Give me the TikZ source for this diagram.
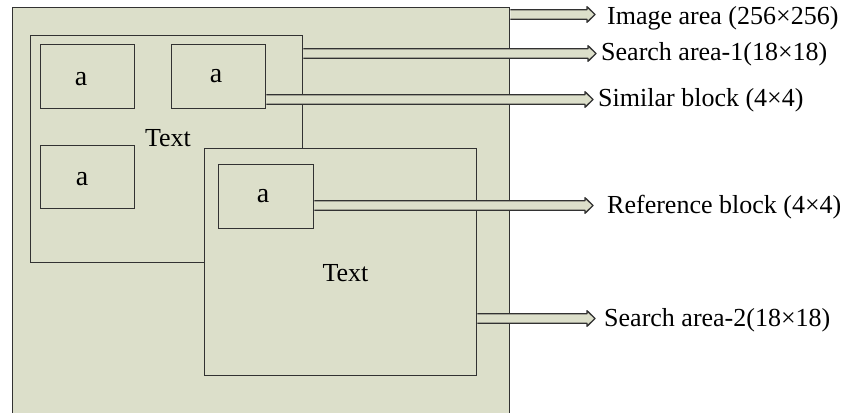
\documentclass[tikz,border=0pt]{standalone}
\usepackage{fontspec}
\setmainfont{Liberation Serif}
\usetikzlibrary{calc}
\definecolor{beige}{RGB}{220,223,202}
\definecolor{edge}{RGB}{50,50,50}
\tikzset{
  box/.style={draw=edge, fill=beige, line width=1.4pt, inner sep=0pt, anchor=north west},
  lbl/.style={font=\fontsize{26}{30}\selectfont, inner sep=0pt, text=black},
  alet/.style={font=\fontsize{28}{32}\selectfont, inner sep=0pt, text=black, anchor=base},
  arrowsty/.style={draw=edge, fill=beige, line width=1.3pt, line join=round},
}
\newcommand{\harrow}[2]{\path[arrowsty] let \p1=(#1), \p2=(#2) in
  (\x1,\y1+4.8pt) -- (\x2-8pt,\y1+4.8pt) -- (\x2-8pt,\y1+7.8pt) -- (\x2,\y1)
  -- (\x2-8pt,\y1-7.8pt) -- (\x2-8pt,\y1-4.8pt) -- (\x1,\y1-4.8pt);}
\begin{document}
\begin{tikzpicture}[x=1pt,y=-1pt]
\useasboundingbox (0,0) rectangle (842,412);
\clip (0,0) rectangle (842,412);
% boxes
\node[box, minimum width=497pt, minimum height=420pt] (img) at (12,7) {};
\node[box, minimum width=272pt, minimum height=227pt] (sa1) at (30,35) {};
\node[box, minimum width=94pt, minimum height=64pt] (b1) at (40,44) {};
\node[box, minimum width=94pt, minimum height=64pt] (b2) at (171,44) {};
\node[box, minimum width=94pt, minimum height=63pt] (b3) at (40,145) {};
\node[lbl, anchor=base] (txt1) at (168,146) {Text};
\node[alet] (a1) at (81,85.5) {a};
\node[alet] (a2) at (216,82) {a};
\node[alet] (a3) at (82,185) {a};
\node[box, minimum width=272pt, minimum height=227pt] (sa2) at (204,148) {};
\node[box, minimum width=95pt, minimum height=64pt] (b4) at (218,164) {};
\node[alet] (a4) at (263,202) {a};
\node[lbl, anchor=base] (txt2) at (345.5,281.5) {Text};
% arrow tips
\coordinate (t1) at (595,14.5);
\coordinate (t2) at (596,53.5);
\coordinate (t3) at (593,99.5);
\coordinate (t4) at (593,205.5);
\coordinate (t5) at (595,318.5);
\harrow{img.north east |- t1}{t1}
\harrow{sa1.north east |- t2}{t2}
\harrow{b2.north east |- t3}{t3}
\harrow{b4.north east |- t4}{t4}
\harrow{sa2.north east |- t5}{t5}
% labels
\node[lbl, anchor=west] (l1) at (607,18) {Image area (256×256)};
\node[lbl, anchor=west] (l2) at (601,54) {Search area-1(18×18)};
\node[lbl, anchor=west] (l3) at (598,100) {Similar block (4×4)};
\node[lbl, anchor=west] (l4) at (607,207) {Reference block (4×4)};
\node[lbl, anchor=west] (l5) at (604,320) {Search area-2(18×18)};
\end{tikzpicture}
\end{document}
